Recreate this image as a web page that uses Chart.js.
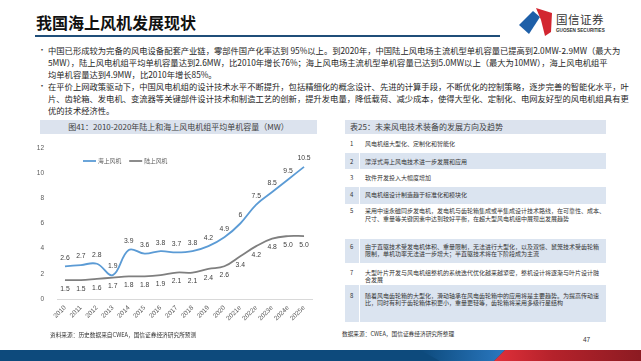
<!DOCTYPE html>
<html><head><meta charset="utf-8">
<script src="https://cdn.jsdelivr.net/npm/chart.js@4.4.1/dist/chart.umd.min.js"></script>
<style>
html,body{margin:0;padding:0;}
body{width:641px;height:361px;position:relative;overflow:hidden;background:#fff;font-family:"Noto Sans CJK SC","Noto Sans",sans-serif;color:#262626;}
.a{position:absolute;white-space:nowrap;}
.p{position:absolute;left:48px;width:558px;font-size:8.3px;line-height:10px;height:10px;white-space:nowrap;color:#262626;}
.j{text-align:justify;text-align-last:justify;}
.b{position:absolute;left:38px;font-size:8px;line-height:10px;color:#404040;}
.row{position:absolute;left:345px;width:261px;}
.sh{background:#dbe4f0;}
.num{position:absolute;left:350px;font-size:6px;line-height:7px;color:#333;}
.tx{position:absolute;left:365px;font-size:6px;line-height:7px;color:#333;white-space:nowrap;}
.src{position:absolute;font-size:5.7px;line-height:7px;color:#333;white-space:nowrap;}
</style></head>
<body>
<!-- title -->
<div class="a" style="left:36px;top:12px;font-size:16px;line-height:20px;font-weight:bold;color:#111;">我国海上风机发展现状</div>
<div class="a" style="left:35px;top:35px;width:465px;height:1.5px;background:#1f4e79;"></div>
<!-- logo -->
<svg class="a" style="left:516px;top:4px;" width="40" height="34" viewBox="0 0 40 34">
  <polygon points="3,21 17,7 24,13 13,30" fill="#1e5fa8"/>
  <polygon points="20,4 36,9 35,28 29,32 25,16" fill="#d22630"/>
</svg>
<div class="a" style="left:556px;top:12px;font-size:11.5px;line-height:14px;color:#333;letter-spacing:0.5px;">国信证券</div>
<div class="a" style="left:556px;top:28px;font-size:4.6px;line-height:6px;font-weight:bold;color:#333;font-family:'Liberation Sans',Arial,sans-serif;">GUOSEN SECURITIES</div>

<!-- bullets -->
<div class="b" style="top:44.5px;">•</div>
<div class="p j" style="top:44.5px;">中国已形成较为完备的风电设备配套产业链，零部件国产化率达到 95%以上。到2020年，中国陆上风电场主流机型单机容量已提高到2.0MW-2.9MW（最大为</div>
<div class="p j" style="top:56.5px;">5MW），陆上风电机组平均单机容量达到2.6MW，比2010年增长76%；海上风电场主流机型单机容量已达到5.0MW以上（最大为10MW），海上风电机组平</div>
<div class="p" style="top:68.5px;">均单机容量达到4.9MW，比2010年增长85%。</div>
<div class="b" style="top:81px;">•</div>
<div class="p j" style="top:81px;">在平价上网政策驱动下，中国风电机组的设计技术水平不断提升，包括精细化的概念设计、先进的计算手段，不断优化的控制策略，逐步完善的智能化水平，叶</div>
<div class="p j" style="top:93px;">片、齿轮箱、发电机、变流器等关键部件设计技术和制造工艺的创新，提升发电量，降低载荷、减少成本，使得大型化、定制化、电网友好型的风电机组具有更</div>
<div class="p" style="top:105px;">优的技术经济性。</div>

<!-- chart panel header -->
<div class="a" style="left:40px;top:120px;width:277px;height:14px;background:#dce3ee;"></div>
<div class="a" style="left:40px;top:120px;width:277px;height:14px;line-height:14px;font-size:8px;text-align:center;color:#404040;">图41：2010-2020年陆上和海上风电机组平均单机容量（MW）</div>
<canvas id="c" width="290" height="200" style="position:absolute;left:30px;top:136px;width:290px;height:200px;"></canvas>
<div class="src" style="left:50px;top:330.5px;">资料来源：历史数据来自CWEA，国信证券经济研究所预测</div>

<!-- table -->
<div class="row" style="top:120px;height:14px;background:#dce3ee;"></div>
<div class="a" style="left:350px;top:120px;line-height:14px;font-size:8px;color:#404040;">表25：未来风电技术装备的发展方向及趋势</div>
<div class="row sh" style="top:153px;height:16px;"></div>
<div class="row sh" style="top:187px;height:17px;"></div>
<div class="row sh" style="top:239px;height:24px;"></div>
<div class="row sh" style="top:285px;height:37px;"></div>
<div class="a" style="left:359px;top:134px;width:1px;height:188px;background:#fff;"></div>

<div class="num" style="top:139.5px;">1</div><div class="tx" style="top:139.5px;">风电机组大型化、定制化和智能化</div>
<div class="num" style="top:157.5px;">2</div><div class="tx" style="top:157.5px;">漂浮式海上风电技术进一步发展和应用</div>
<div class="num" style="top:173.5px;">3</div><div class="tx" style="top:173.5px;">软件开发投入大幅度增加</div>
<div class="num" style="top:191px;">4</div><div class="tx" style="top:191px;">风电机组设计制造趋于标准化和模块化</div>
<div class="num" style="top:206.5px;">5</div><div class="tx" style="top:206.5px;">采用中速永磁同步发电机，发电机与齿轮箱集成或半集成设计技术路线，在可靠性、成本、</div>
<div class="tx" style="top:214.5px;">尺寸、重量等关键因素中达到较好平衡，在超大型风电机组中展现出发展趋势</div>
<div class="num" style="top:242.5px;">6</div><div class="tx" style="top:242.5px;">由于直驱技术受发电机体积、重量限制，无法进行大型化，以及双馈、鼠笼技术受齿轮箱</div>
<div class="tx" style="top:249.5px;">限制，单机功率无法进一步增大；半直驱技术将在下阶段成为主流</div>
<div class="num" style="top:269px;">7</div><div class="tx" style="top:269px;">大型叶片开发与风电机组整机的系统迭代优化越来越紧密，整机设计将逐渐与叶片设计融</div>
<div class="tx" style="top:275.5px;">合发展</div>
<div class="num" style="top:291.5px;">8</div><div class="tx" style="top:291.5px;">随着风电齿轮箱的大型化，滑动轴承在风电齿轮箱中的应用将是主要趋势。为提高传动速</div>
<div class="tx" style="top:298.5px;">比，同时有利于齿轮箱体积更小，重量更轻等，齿轮箱将采用多级行星结构</div>
<div class="src" style="left:342px;top:329.5px;">数据来源：CWEA，国信证券经济研究所整理</div>

<div class="a" style="left:583px;top:336px;font-size:6.5px;line-height:8px;color:#333;font-family:'Liberation Sans',Arial,sans-serif;">47</div>

<!-- bottom bar -->
<svg class="a" style="left:0;top:350px;" width="641" height="11" viewBox="0 0 641 11">
  <defs>
    <linearGradient id="gb" x1="0" x2="1" y1="0" y2="0">
      <stop offset="0" stop-color="#0d4a7c"/>
      <stop offset="1" stop-color="#2a78c0"/>
    </linearGradient>
    <linearGradient id="gr" x1="0" x2="1" y1="0" y2="0">
      <stop offset="0" stop-color="#e0303a"/>
      <stop offset="0.4" stop-color="#b5222b"/>
      <stop offset="1" stop-color="#8c1b22"/>
    </linearGradient>
  </defs>
  <rect x="0" y="0" width="641" height="11" fill="#0d4a7c"/>
  <polygon points="420,0 505,0 494,11 440,11" fill="url(#gb)"/>
  <polygon points="505,0 641,0 641,11 494,11" fill="url(#gr)"/>
</svg>

<script>
const categories = ['2010','2011','2012','2013','2014','2015','2016','2017','2018','2019','2020','2021e','2022e','2023e','2024e','2025e'];
const offshore = [2.6,2.7,2.8,1.9,3.9,3.6,3.8,3.7,3.8,4.2,4.9,6,7.5,8.5,9.5,10.5];
const onshore  = [1.5,1.5,1.6,1.7,1.8,1.8,1.9,2.1,2.1,2.4,2.6,3.4,4.2,4.8,5.0,5.0];
const seriesNames = ['海上风机','陆上风机'];
const yTicks = [0,2,4,6,8,10,12];

const valueLabels = {
  id:'valueLabels',
  afterDatasetsDraw(chart){
    const ctx = chart.ctx;
    ctx.save();
    ctx.font = '6.8px "Liberation Sans", Arial, sans-serif';
    ctx.fillStyle = '#404040';
    ctx.textAlign = 'center';
    ctx.textBaseline = 'middle';
    chart.data.datasets.forEach((ds,i)=>{
      const meta = chart.getDatasetMeta(i);
      meta.data.forEach((pt,j)=>{
        const v = ds.data[j];
        const txt = i===0 ? String(v) : v.toFixed(1);
        const dy = i===0 ? -8.5 : 9;
        ctx.fillText(txt, pt.x, pt.y+dy);
      });
    });
    ctx.restore();
  }
};
const innerLegend = {
  id:'innerLegend',
  afterDraw(chart){
    const ctx = chart.ctx, a = chart.chartArea;
    let x = a.left + 26, y = a.top + 13;
    ctx.save();
    ctx.font = '5.8px "Noto Sans CJK SC", sans-serif';
    ctx.textBaseline = 'middle';
    chart.data.datasets.forEach(ds=>{
      ctx.strokeStyle = ds.borderColor;
      ctx.lineWidth = 1.8;
      ctx.beginPath(); ctx.moveTo(x,y); ctx.lineTo(x+13,y); ctx.stroke();
      ctx.fillStyle = '#595959';
      ctx.fillText(ds.label, x+15, y);
      x += 15 + ctx.measureText(ds.label).width + 8;
    });
    ctx.restore();
  }
};

new Chart(document.getElementById('c'), {
  type:'line',
  data:{
    labels:categories,
    datasets:[
      {label:seriesNames[0], data:offshore, borderColor:'#5b9bd5', backgroundColor:'#5b9bd5', borderWidth:1.8, pointRadius:0, tension:0.4, fill:false},
      {label:seriesNames[1], data:onshore, borderColor:'#7f7f7f', backgroundColor:'#7f7f7f', borderWidth:1.8, pointRadius:0, tension:0.4, fill:false}
    ]
  },
  options:{
    responsive:false,
    animation:false,
    devicePixelRatio:1,
    layout:{padding:{top:12,right:8,left:0,bottom:0}},
    plugins:{legend:{display:false},tooltip:{enabled:false}},
    scales:{
      x:{
        offset:true,
        grid:{display:false,drawTicks:false},
        border:{display:true,color:'#d9d9d9',width:1},
        ticks:{minRotation:45,maxRotation:45,autoSkip:false,padding:5,color:'#595959',font:{size:6.5,family:'"Liberation Sans", Arial, sans-serif'}},
        afterFit(s){s.height=37;}
      },
      y:{
        min:0,max:12,
        afterBuildTicks(s){s.ticks = yTicks.map(v=>({value:v}));},
        grid:{display:false},
        border:{display:false},
        ticks:{padding:5,color:'#595959',font:{size:6.5,family:'"Liberation Sans", Arial, sans-serif'}},
        afterFit(s){s.width=27;}
      }
    }
  },
  plugins:[valueLabels, innerLegend]
});
</script>
</body></html>
